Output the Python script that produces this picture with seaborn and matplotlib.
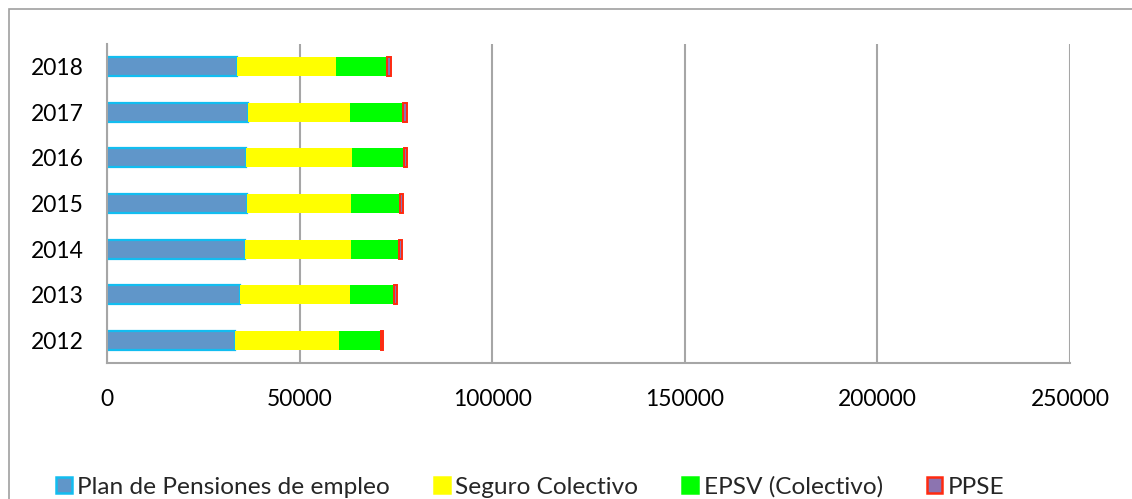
import matplotlib
matplotlib.use("Agg")
import matplotlib.pyplot as plt
from matplotlib.patches import Rectangle, Patch
import numpy as np
import pandas as pd
import seaborn as sns

# Aportaciones por tipo de instrumento de previsión social empresarial
years = ["2012", "2013", "2014", "2015", "2016", "2017", "2018"]
plan_pensiones = [33100, 34600, 35900, 36300, 36100, 36600, 33700]
seguro_colectivo = [27200, 28400, 27500, 27000, 27500, 26400, 25700]
epsv_colectivo = [10800, 11500, 12500, 12800, 13500, 13900, 13400]
ppse = [600, 700, 600, 700, 700, 900, 900]

series_names = ["Plan de Pensiones de empleo", "Seguro Colectivo", "EPSV (Colectivo)", "PPSE"]
x_ticks = [0, 50000, 100000, 150000, 200000, 250000]

sns.set_style("white")
plt.rcParams["font.family"] = ["Lato", "DejaVu Sans"]

df = pd.DataFrame({
    "year": years,
    series_names[0]: plan_pensiones,
    series_names[1]: seguro_colectivo,
    series_names[2]: epsv_colectivo,
    series_names[3]: ppse,
})

order = years[::-1]  # newest year on top
df = df.set_index("year").loc[order].reset_index()

styles = {
    series_names[0]: dict(face="#6096C9", edge="#12BDF0", lw=1.6),
    series_names[1]: dict(face="#FFFF00", edge="#FFFF00", lw=0.0),
    series_names[2]: dict(face="#00FF00", edge="#00FF00", lw=0.0),
    series_names[3]: dict(face="#8C74B0", edge="#FF2A10", lw=1.4),
}

W, H = 1132, 499
fig = plt.figure(figsize=(W / 100, H / 100), dpi=100)
ax = fig.add_axes([107 / W, 1 - 363 / H, (1070 - 107) / W, (363 - 44) / H])

grey = "#A6A6A6"
left = np.zeros(len(df))
for name in series_names:
    st = styles[name]
    sns.barplot(
        data=df, x=name, y="year", order=order, orient="h",
        color=st["face"], saturation=1, errorbar=None, width=0.42,
        edgecolor=st["edge"], linewidth=st["lw"], left=left.copy(), ax=ax,
    )
    left += df[name].to_numpy()

ax.set_xlim(0, 250000)
ax.set_ylim(6.5, -0.5)
ax.set_xticks(x_ticks)
ax.set_xticklabels([str(v) for v in x_ticks])
ax.set_xlabel("")
ax.set_ylabel("")

ax.xaxis.grid(True, color=grey, linewidth=1.5)
ax.yaxis.grid(False)
ax.set_axisbelow(True)

for side in ("top", "right"):
    ax.spines[side].set_visible(False)
for side in ("left", "bottom"):
    ax.spines[side].set_color(grey)
    ax.spines[side].set_linewidth(1.5)

ax.tick_params(axis="x", which="major", direction="out", length=5.8, width=1.5,
               color=grey, labelsize=16.5, labelcolor="black", pad=13)
ax.tick_params(axis="y", which="major", length=0, labelsize=16.5,
               labelcolor="black", pad=17)
ax.set_yticks(np.arange(-0.5, 7.0, 1.0), minor=True)
ax.tick_params(axis="y", which="minor", direction="out", length=5.8, width=1.5,
               color=grey)

handles = [
    Patch(facecolor=styles[n]["face"],
          edgecolor=styles[n]["edge"] if n in (series_names[0], series_names[3]) else styles[n]["face"],
          linewidth=1.8)
    for n in series_names
]
fig.legend(handles, series_names, loc="center left",
           bbox_to_anchor=(56 / W, 1 - 487 / H), ncol=4, frameon=False,
           fontsize=17.6, handlelength=0.64, handleheight=0.6,
           handletextpad=0.23, columnspacing=1.8, borderpad=0, borderaxespad=0)

fig.patches.append(Rectangle((9 / W, -0.1), 1.2, 1.1 - 9.5 / H, transform=fig.transFigure,
                             fill=False, edgecolor="#A0A0A0", linewidth=1.2))

fig.savefig("out.png", dpi=100)
